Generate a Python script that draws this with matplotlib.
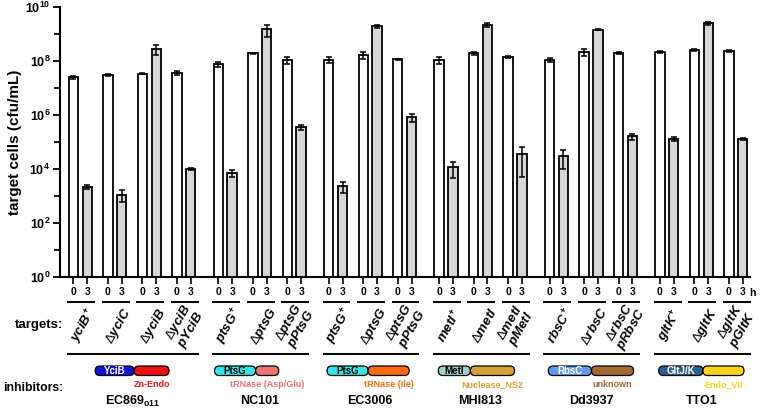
import numpy as np
import matplotlib
matplotlib.use('Agg')
import matplotlib.pyplot as plt
from matplotlib.patches import FancyBboxPatch

plt.rcParams['font.family'] = ['Liberation Sans', 'DejaVu Sans']
plt.rcParams['mathtext.fontset'] = 'custom'
plt.rcParams['mathtext.rm'] = 'Liberation Sans'
plt.rcParams['mathtext.it'] = 'Liberation Sans:italic:bold'
plt.rcParams['mathtext.bf'] = 'Liberation Sans:bold'

# ---------------- data ----------------
strains = [r'EC869$_{\mathbf{o11}}$', 'NC101', 'EC3006', 'MHI813', 'Dd3937', 'TTO1']
group_sizes = [4, 3, 3, 3, 3, 3]
targets = [
    r'$\mathit{yciB}^{\mathbf{+}}$', r'$\Delta\mathit{yciC}$', r'$\Delta\mathit{yciB}$',
    r'$\Delta\mathit{yciB}$' + '\n' + r'$\mathit{pYciB}$',
    r'$\mathit{ptsG}^{\mathbf{+}}$', r'$\Delta\mathit{ptsG}$',
    r'$\Delta\mathit{ptsG}$' + '\n' + r'$\mathit{pPtsG}$',
    r'$\mathit{ptsG}^{\mathbf{+}}$', r'$\Delta\mathit{ptsG}$',
    r'$\Delta\mathit{ptsG}$' + '\n' + r'$\mathit{pPtsG}$',
    r'$\mathit{metI}^{\mathbf{+}}$', r'$\Delta\mathit{metI}$',
    r'$\Delta\mathit{metI}$' + '\n' + r'$\mathit{pMetI}$',
    r'$\mathit{rbsC}^{\mathbf{+}}$', r'$\Delta\mathit{rbsC}$',
    r'$\Delta\mathit{rbsC}$' + '\n' + r'$\mathit{pRbsC}$',
    r'$\mathit{gltK}^{\mathbf{+}}$', r'$\Delta\mathit{gltK}$',
    r'$\Delta\mathit{gltK}$' + '\n' + r'$\mathit{pGltK}$',
]
time_labels = ['0', '3']
t0 = [2.5e7, 3.1e7, 3.4e7, 3.6e7, 7.5e7, 1.9e8, 1.1e8, 1.1e8, 1.7e8, 1.15e8,
      1.1e8, 1.9e8, 1.4e8, 1.1e8, 2.2e8, 2.0e8, 2.15e8, 2.6e8, 2.3e8]
t0_err = [4e6, 3e6, 2e6, 5e6, 1.5e7, 1e7, 3e7, 2.5e7, 5e7, 3e6,
          3e7, 2.5e7, 1.5e7, 1.5e7, 7e7, 1.5e7, 2e7, 3e7, 1.5e7]
t3 = [2.2e3, 1.1e3, 2.8e8, 1.0e4, 7e3, 1.5e9, 3.5e5, 2.3e3, 1.9e9, 8.2e5,
      1.15e4, 2.2e9, 3.5e4, 3.1e4, 1.45e9, 1.6e5, 1.3e5, 2.5e9, 1.3e5]
t3_err = [4e2, 5e2, 1.2e8, 6e2, 1.8e3, 7e8, 6e4, 1e3, 2e8, 2.6e5,
          7e3, 4e8, 3e4, 2.1e4, 1e8, 4e4, 2e4, 3e8, 1.5e4]

# inhibitor domain architecture: (name, colour, text colour, length)
domains = [
    [('YciB', '#1414d2', 'white', 1.13), ('', '#ee1111', 'white', 1.01)],
    [('PtsG', '#33e6e6', 'black', 1.19), ('', '#f07272', 'white', 0.67)],
    [('PtsG', '#33e6e6', 'black', 1.19), ('', '#ff6a10', 'white', 1.19)],
    [('MetI', '#9fd0cc', 'black', 0.93), ('', '#d6a13a', 'white', 1.28)],
    [('RbsC', '#5f9bee', 'white', 1.25), ('', '#a36a32', 'white', 1.22)],
    [('GltJ/K', '#2e5f8e', 'white', 1.28), ('', '#ffd21a', 'white', 1.19)],
]
domain_labels = ['Zn-Endo', 'tRNase (Asp/Glu)', 'tRNase (Ile)', 'Nuclease_NS2', 'unknown', 'Endo_VII']
arch_shift = [0.0, -0.38, -0.06, -0.12, 0.0, 0.0]

# ---------------- layout ----------------
W, H = 760, 411
fig = plt.figure(figsize=(W / 100, H / 100), dpi=100)
ax = fig.add_axes([60 / W, 1 - 277 / H, 690 / W, 270 / H])

gap = 0.2
pos = []
x = 0.0
group_bounds = []
for n in group_sizes:
    start = len(pos)
    for j in range(n):
        pos.append(x)
        x += 1
    x += gap
    group_bounds.append((start, len(pos) - 1))
pos = np.array(pos)
off = 0.4
bw = 0.275

ekw = dict(elinewidth=1.1, capthick=1.1, ecolor='black')
ax.bar(pos, t0, width=bw, color='white', edgecolor='black', linewidth=1.3,
       yerr=t0_err, capsize=2.5, error_kw=ekw, zorder=2)
ax.bar(pos + off, t3, width=bw, color='#d6d6d6', edgecolor='black', linewidth=1.3,
       yerr=t3_err, capsize=2.5, error_kw=ekw, zorder=2)

ax.set_yscale('log')
ax.set_ylim(1, 1e10)
ax.set_xlim(-0.39, 19.61)
major = [10.0 ** k for k in range(0, 11, 2)]
ax.set_yticks(major)
ax.set_yticklabels([r'$\mathbf{10^{%d}}$' % k for k in range(0, 11, 2)], fontsize=9)
ax.set_yticks([10.0 ** k for k in range(1, 10, 2)], minor=True)
ax.yaxis.set_minor_formatter(matplotlib.ticker.NullFormatter())
ax.tick_params(axis='y', which='major', length=5, width=1.3, pad=2)
ax.tick_params(axis='y', which='minor', length=4, width=1.3)

xt = np.sort(np.concatenate([pos, pos + off]))
ax.set_xticks(xt)
ax.set_xticklabels([time_labels[i % 2] for i in range(len(xt))], fontsize=7.5, fontweight='bold')
ax.tick_params(axis='x', length=5, width=1.2, pad=2)

for s in ['top', 'right']:
    ax.spines[s].set_visible(False)
for s in ['left', 'bottom']:
    ax.spines[s].set_linewidth(1.5)
ax.set_ylabel('target cells (cfu/mL)', fontsize=11, fontweight='bold', labelpad=2)

# ---------------- annotations (pixel overlay) ----------------
ov = fig.add_axes([0, 0, 1, 1])
ov.set_xlim(0, W)
ov.set_ylim(H, 0)
ov.axis('off')


def px(xd):
    return ax.transData.transform((xd, 1))[0]


ov.text(px(pos[-1] + off) + 6, 293, 'h', fontsize=7.5, fontweight='bold', ha='left', va='center')

for i, p in enumerate(pos):
    ov.plot([px(p - 0.15), px(p + off + 0.2)], [302, 302], color='black', lw=1.4)
    ml = '\n' in targets[i]
    ov.text(px(p + off / 2) + (1 if ml else 4), 326, targets[i], rotation=60, fontsize=9.5,
            ha='center', va='center', rotation_mode='anchor', multialignment='center',
            linespacing=0.9)

ov.text(63, 325, 'targets:', fontsize=9.5, fontweight='bold', ha='right', va='center')
ov.text(63, 388, 'inhibitors:', fontsize=8.8, fontweight='bold', ha='right', va='center')

for g, (a, b) in enumerate(group_bounds):
    ov.plot([px(pos[a] - 0.15), px(pos[b] + off + 0.2)], [354, 354], color='black', lw=1.4)
    gc = (pos[a] + pos[b] + off) / 2
    ov.text(px(gc), 401, strains[g], fontsize=9, fontweight='bold', ha='center', va='center')
    total = sum(d[3] for d in domains[g])
    xs = gc - total / 2 + arch_shift[g]
    for k, (name, col, tcol, ln) in enumerate(domains[g]):
        x0p, x1p = px(xs), px(xs + ln)
        box = FancyBboxPatch((x0p, 366), x1p - x0p, 9.5,
                             boxstyle='round,pad=0,rounding_size=4.7',
                             facecolor=col, edgecolor='black', lw=0.9)
        ov.add_patch(box)
        if name:
            ov.text((x0p + x1p) / 2, 371, name, fontsize=7, fontweight='bold',
                    color=tcol, ha='center', va='center')
        if k == 1:
            ov.text((x0p + x1p) / 2, 384.5, domain_labels[g], fontsize=6.5, fontweight='bold',
                    color=col, ha='center', va='center')
        xs += ln

fig.savefig('out.png', dpi=100)
